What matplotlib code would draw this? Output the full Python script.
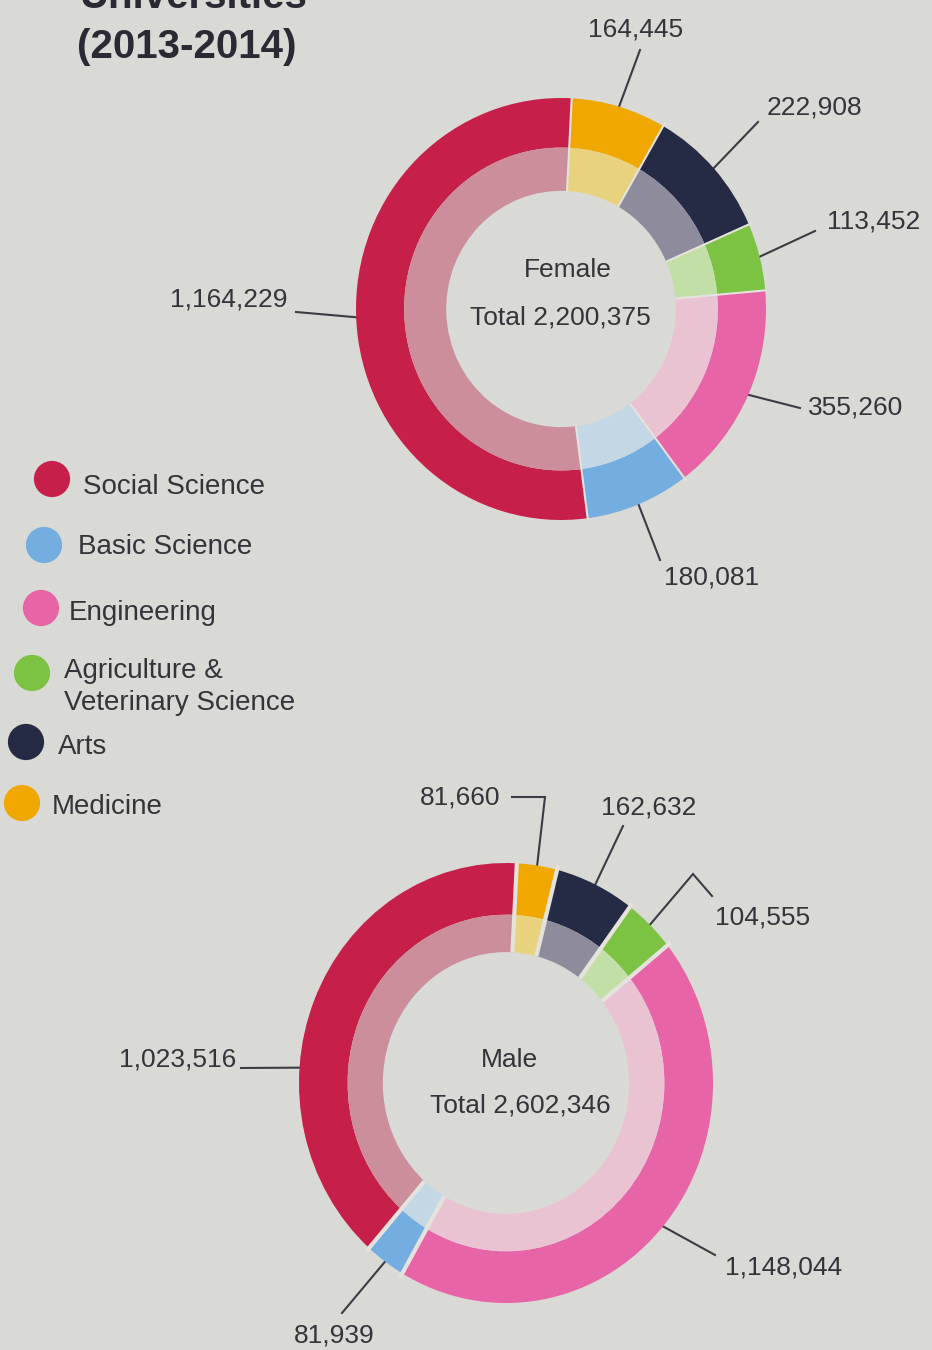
import numpy as np
import matplotlib
matplotlib.use("Agg")
import matplotlib.pyplot as plt

# ── data ──────────────────────────────────────────────────────────────────────
SLICES = ["Medicine", "Arts", "Agriculture", "Engineering", "Basic Science", "Social Science"]
FEMALE = [164445, 222908, 113452, 355260, 180081, 1164229]
MALE = [81660, 162632, 104555, 1148044, 81939, 1023516]
FEMALE_TOTAL = 2200375
MALE_TOTAL = 2602346

LEGEND_KEYS = ["Social Science", "Basic Science", "Engineering", "Agriculture", "Arts", "Medicine"]
LEGEND_TEXT = ["Social Science", "Basic Science", "Engineering",
               "Agriculture &\nVeterinary Science", "Arts", "Medicine"]

# ── style ─────────────────────────────────────────────────────────────────────
W, H = 932, 1350
BG = "#d9d9d6"
TXT = "#34343a"
LINE = "#3c3c44"
SEP = "#e4e2dc"
plt.rcParams["font.family"] = ["Liberation Sans", "DejaVu Sans"]

OUTER = {"Medicine": "#f0a800", "Arts": "#252b45", "Agriculture": "#7cc243",
         "Engineering": "#e764a6", "Basic Science": "#74ade0", "Social Science": "#c6204a"}
INNER = {"Medicine": "#e8d27e", "Arts": "#8e8c9c", "Agriculture": "#c3dfa8",
         "Engineering": "#eac3d3", "Basic Science": "#c4d7e4", "Social Science": "#cb8e9a"}

# label layout: (text x, text y, ha, [line points in px], anchor angle or None)
FEMALE_LAYOUT = [
    (636, 30, "center", [(640, 50)], None),
    (767, 108, "left", [(758, 122)], None),
    (827, 222, "left", [(815, 231)], None),
    (808, 407, "left", [(800, 408)], None),
    (712, 578, "center", [(660, 560)], None),
    (288, 300, "right", [(296, 312)], None),
]
MALE_LAYOUT = [
    (500, 798, "right", [(512, 797), (545, 797)], None),
    (649, 808, "center", [(623, 826)], None),
    (715, 917, "left", [(712, 896), (693, 874)], None),
    (725, 1267, "left", [(715, 1255)], None),
    (334, 1335, "center", [(342, 1313)], None),
    (236, 1060, "right", [(241, 1068)], 176),
]

fig = plt.figure(figsize=(W / 100, H / 100), dpi=100, facecolor=BG)
over = fig.add_axes([0, 0, 1, 1], zorder=0)
over.set_xlim(0, W)
over.set_ylim(H, 0)
over.axis("off")


def donut(values, total, name, cx, cy, rx, ry, hole, start, gap, layout, tpos):
    ax = fig.add_axes([(cx - rx) / W, 1 - (cy + ry) / H, 2 * rx / W, 2 * ry / H], zorder=1)
    ax.patch.set_alpha(0)
    ax.pie(values, radius=1.0, startangle=start, counterclock=False,
           colors=[OUTER[s] for s in SLICES], wedgeprops=dict(width=0.235, linewidth=0))
    ax.pie(values, radius=0.765, startangle=start, counterclock=False,
           colors=[INNER[s] for s in SLICES], wedgeprops=dict(width=0.765 - hole, linewidth=0))
    ax.set_aspect("auto")
    ax.set_xlim(-1, 1)
    ax.set_ylim(-1, 1)
    ax.axis("off")

    vals = np.array(values, dtype=float)
    cum = np.cumsum(vals) / vals.sum()
    bounds = start - 360 * np.concatenate([[0], cum[:-1]])
    for b in bounds:
        t = np.radians(b)
        ax.plot([hole * np.cos(t), 1.02 * np.cos(t)], [hole * np.sin(t), 1.02 * np.sin(t)],
                color=SEP, lw=gap, solid_capstyle="butt")

    mids = start - 360 * (cum - vals / vals.sum() / 2)
    for v, mid, (tx, ty, ha, pts, ang) in zip(values, mids, layout):
        a = np.radians(ang if ang is not None else mid)
        anchor = (cx + rx * np.cos(a), cy - ry * np.sin(a))
        path = pts + [anchor]
        over.plot([p[0] for p in path], [p[1] for p in path], color=LINE, lw=1.5,
                  solid_joinstyle="miter")
        over.text(tx, ty, f"{v:,}", ha=ha, va="center", fontsize=19, color=TXT)

    over.text(tpos[0], tpos[1], name, ha="center", va="center", fontsize=19, color=TXT)
    over.text(tpos[2], tpos[3], f"Total {total:,}", ha="center", va="center",
              fontsize=19, color=TXT)


donut(FEMALE, FEMALE_TOTAL, "Female", 561, 309, 205, 211, 0.56, 87, 1.5,
      FEMALE_LAYOUT, (568, 270, 560, 318))
donut(MALE, MALE_TOTAL, "Male", 506, 1083, 207, 220, 0.595, 87, 3.0,
      MALE_LAYOUT, (509, 1060, 520, 1106))

# title (top line is cut off by the photo edge, as in the reference)
over.text(80, 8, "Universities", ha="left", va="baseline", fontsize=29,
          fontweight="bold", color="#2a2a35")
over.text(77, 47, "(2013-2014)", ha="left", va="center", fontsize=29,
          fontweight="bold", color="#2a2a35")

# legend
dot_xy = [(52, 479), (44, 545), (41, 608), (32, 673), (26, 742), (22, 803)]
txt_xy = [(83, 487), (78, 547), (69, 613), (64, 687), (58, 747), (52, 807)]
for key, lab, (dx, dy), (lx, ly) in zip(LEGEND_KEYS, LEGEND_TEXT, dot_xy, txt_xy):
    over.scatter([dx], [dy], s=680, color=OUTER[key], edgecolor="none")
    over.text(lx, ly, lab, ha="left", va="center", fontsize=20, color=TXT,
              linespacing=1.25)

fig.savefig("out.png", dpi=100, facecolor=BG)
